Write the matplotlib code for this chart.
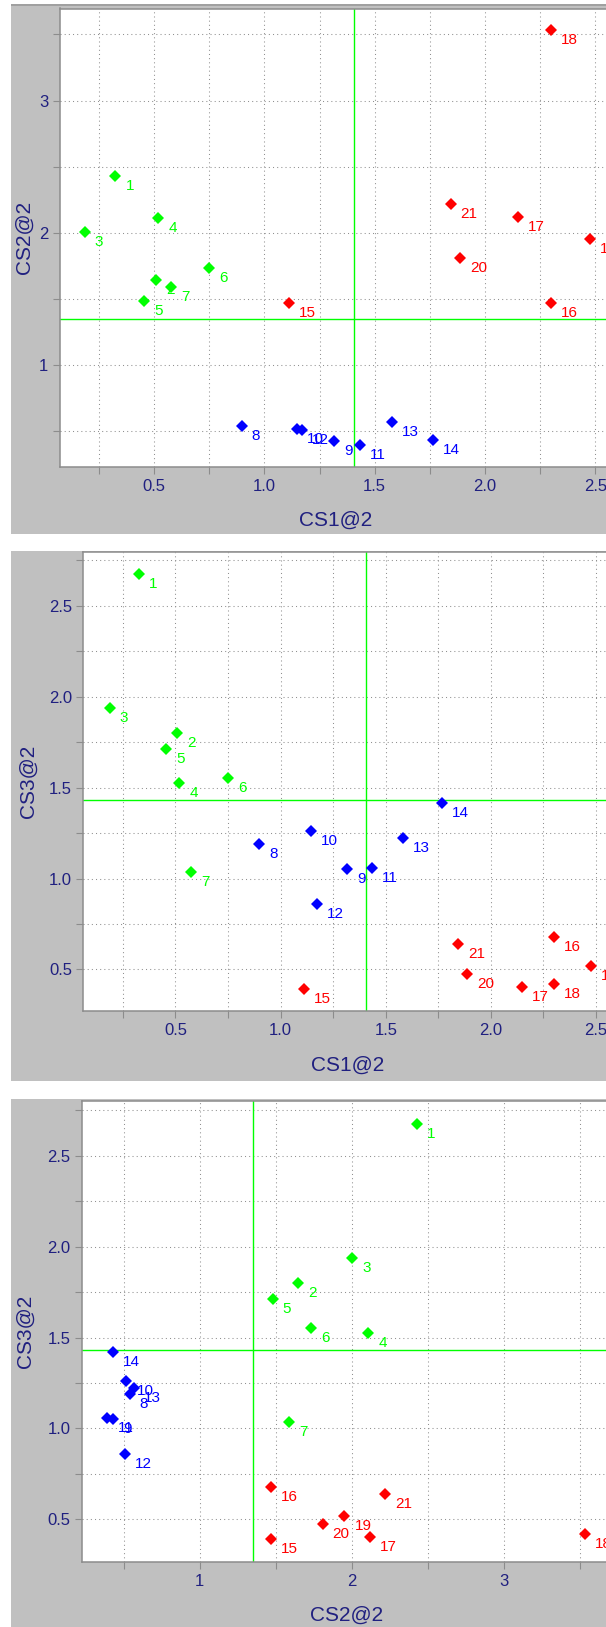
import matplotlib
matplotlib.use("Agg")
import matplotlib.pyplot as plt
from matplotlib.patches import Rectangle
from matplotlib.ticker import MultipleLocator, FormatStrFormatter

plt.rcParams['font.family'] = ['Liberation Sans', 'DejaVu Sans']

# scores
labels = [str(i) for i in range(1, 22)]
cs1 = [0.325, 0.508, 0.187, 0.519, 0.455, 0.750, 0.576,
       0.898, 1.317, 1.146, 1.434, 1.171, 1.580, 1.766,
       1.112, 2.300, 2.149, 2.300, 2.476, 1.888, 1.844]
cs2 = [2.427, 1.646, 2.004, 2.110, 1.480, 1.735, 1.589,
       0.540, 0.428, 0.517, 0.392, 0.509, 0.568, 0.430,
       1.467, 1.467, 2.119, 3.537, 1.952, 1.808, 2.220]
cs3 = [2.675, 1.799, 1.936, 1.526, 1.712, 1.555, 1.036,
       1.189, 1.052, 1.259, 1.057, 0.858, 1.223, 1.418,
       0.391, 0.677, 0.404, 0.418, 0.520, 0.474, 0.642]
groups = [0] * 7 + [1] * 7 + [2] * 7
group_colors = ['#00ff00', '#0000ff', '#ff0000']

# reference lines
cs1_ref = 1.405
cs2_ref = 1.348
cs3_ref = 1.432

W, H = 606, 1627
fig = plt.figure(figsize=(W / 100, H / 100), dpi=100)
navy = '#202080'
grey = '#8c8c8c'

# grey window frames (pixel coords from top)
for top, bot in [(4, 534), (550.7, 1081), (1099.3, 1627)]:
    fig.patches.append(Rectangle((11 / W, 1 - bot / H), (W - 11) / W, (bot - top) / H,
                                 transform=fig.transFigure, facecolor='#c0c0c0',
                                 edgecolor='none', zorder=-10))
fig.patches.append(Rectangle((11 / W, 1 - 5.5 / H), (W - 11) / W, 1.5 / H,
                             transform=fig.transFigure, facecolor='#a0a0a0',
                             edgecolor='none', zorder=-9))


def make_ax(left, top, bottom, right=611):
    return fig.add_axes([left / W, 1 - bottom / H, (right - left) / W, (bottom - top) / H])


def style(ax, xmaj, xmin, ymaj, ymin, xfmt, yfmt, xlab, ylab, ylab_x, xlab_y, left, top, bottom):
    ax.set_facecolor('white')
    ax.xaxis.set_major_locator(MultipleLocator(xmaj))
    ax.xaxis.set_minor_locator(MultipleLocator(xmin))
    ax.yaxis.set_major_locator(MultipleLocator(ymaj))
    ax.yaxis.set_minor_locator(MultipleLocator(ymin))
    ax.xaxis.set_major_formatter(FormatStrFormatter(xfmt))
    ax.yaxis.set_major_formatter(FormatStrFormatter(yfmt))
    ax.tick_params(which='both', direction='out', length=5, width=0.8, color=grey,
                   labelcolor=navy, labelsize=12, pad=3)
    ax.tick_params(axis='x', which='major', pad=3.5)
    ax.grid(which='both', color='#909090', linestyle=(0, (1, 3)), linewidth=0.75)
    ax.set_axisbelow(True)
    for s in ['left', 'bottom', 'top']:
        ax.spines[s].set_color(grey)
        ax.spines[s].set_linewidth(1.1)
    ax.spines['right'].set_visible(False)
    ax.set_xlabel(xlab, fontsize=15, color=navy)
    ax.set_ylabel(ylab, fontsize=15, color=navy)
    # label centre positions in pixels -> axes coords (anchor sits on the text edge)
    w_px = 611 - left
    h_px = bottom - top
    ax.xaxis.set_label_coords(0.5, -(xlab_y - 9 - bottom) / h_px)
    ax.yaxis.set_label_coords(-(left - ylab_x - 9) / w_px, 0.5)


def scatter(ax, xs, ys):
    for x, y, g, lab in zip(xs, ys, groups, labels):
        c = group_colors[g]
        ax.plot(x, y, 'D', color=c, markersize=5.8, markeredgewidth=0, zorder=3)
        ax.annotate(lab, (x, y), xytext=(10, -10), textcoords='offset pixels',
                    ha='left', va='center', color=c, fontsize=11, zorder=4,
                    annotation_clip=False)


# panel 1: CS1 vs CS2
ax1 = make_ax(59.5, 8.5, 466.7)
ax1.set_xlim(0.0717, 2.571)
ax1.set_ylim(0.230, 3.696)
style(ax1, 0.5, 0.25, 1, 0.5, '%.1f', '%d', 'CS1@2', 'CS2@2', 25, 520, 59.5, 8.5, 466.7)
ax1.axvline(cs1_ref, color='#00ff00', linewidth=1.0, zorder=2)
ax1.axhline(cs2_ref, color='#00ff00', linewidth=1.0, zorder=2)
scatter(ax1, cs1, cs2)

# panel 2: CS1 vs CS3
ax2 = make_ax(83.3, 552, 1010.7)
ax2.set_xlim(0.0616, 2.571)
ax2.set_ylim(0.273, 2.796)
style(ax2, 0.5, 0.25, 0.5, 0.25, '%.1f', '%.1f', 'CS1@2', 'CS3@2', 29, 1065, 83.3, 552, 1010.7)
ax2.axvline(cs1_ref, color='#00ff00', linewidth=1.0, zorder=2)
ax2.axhline(cs3_ref, color='#00ff00', linewidth=1.0, zorder=2)
scatter(ax2, cs1, cs3)

# panel 3: CS2 vs CS3
ax3 = make_ax(81.7, 1100.7, 1561.7)
ax3.set_xlim(0.223, 3.706)
ax3.set_ylim(0.267, 2.803)
style(ax3, 1, 0.5, 0.5, 0.25, '%d', '%.1f', 'CS2@2', 'CS3@2', 26, 1615, 81.7, 1100.7, 1561.7)
ax3.axvline(cs2_ref, color='#00ff00', linewidth=1.0, zorder=2)
ax3.axhline(cs3_ref, color='#00ff00', linewidth=1.0, zorder=2)
scatter(ax3, cs2, cs3)

fig.savefig('out.png', dpi=100, facecolor='white')
